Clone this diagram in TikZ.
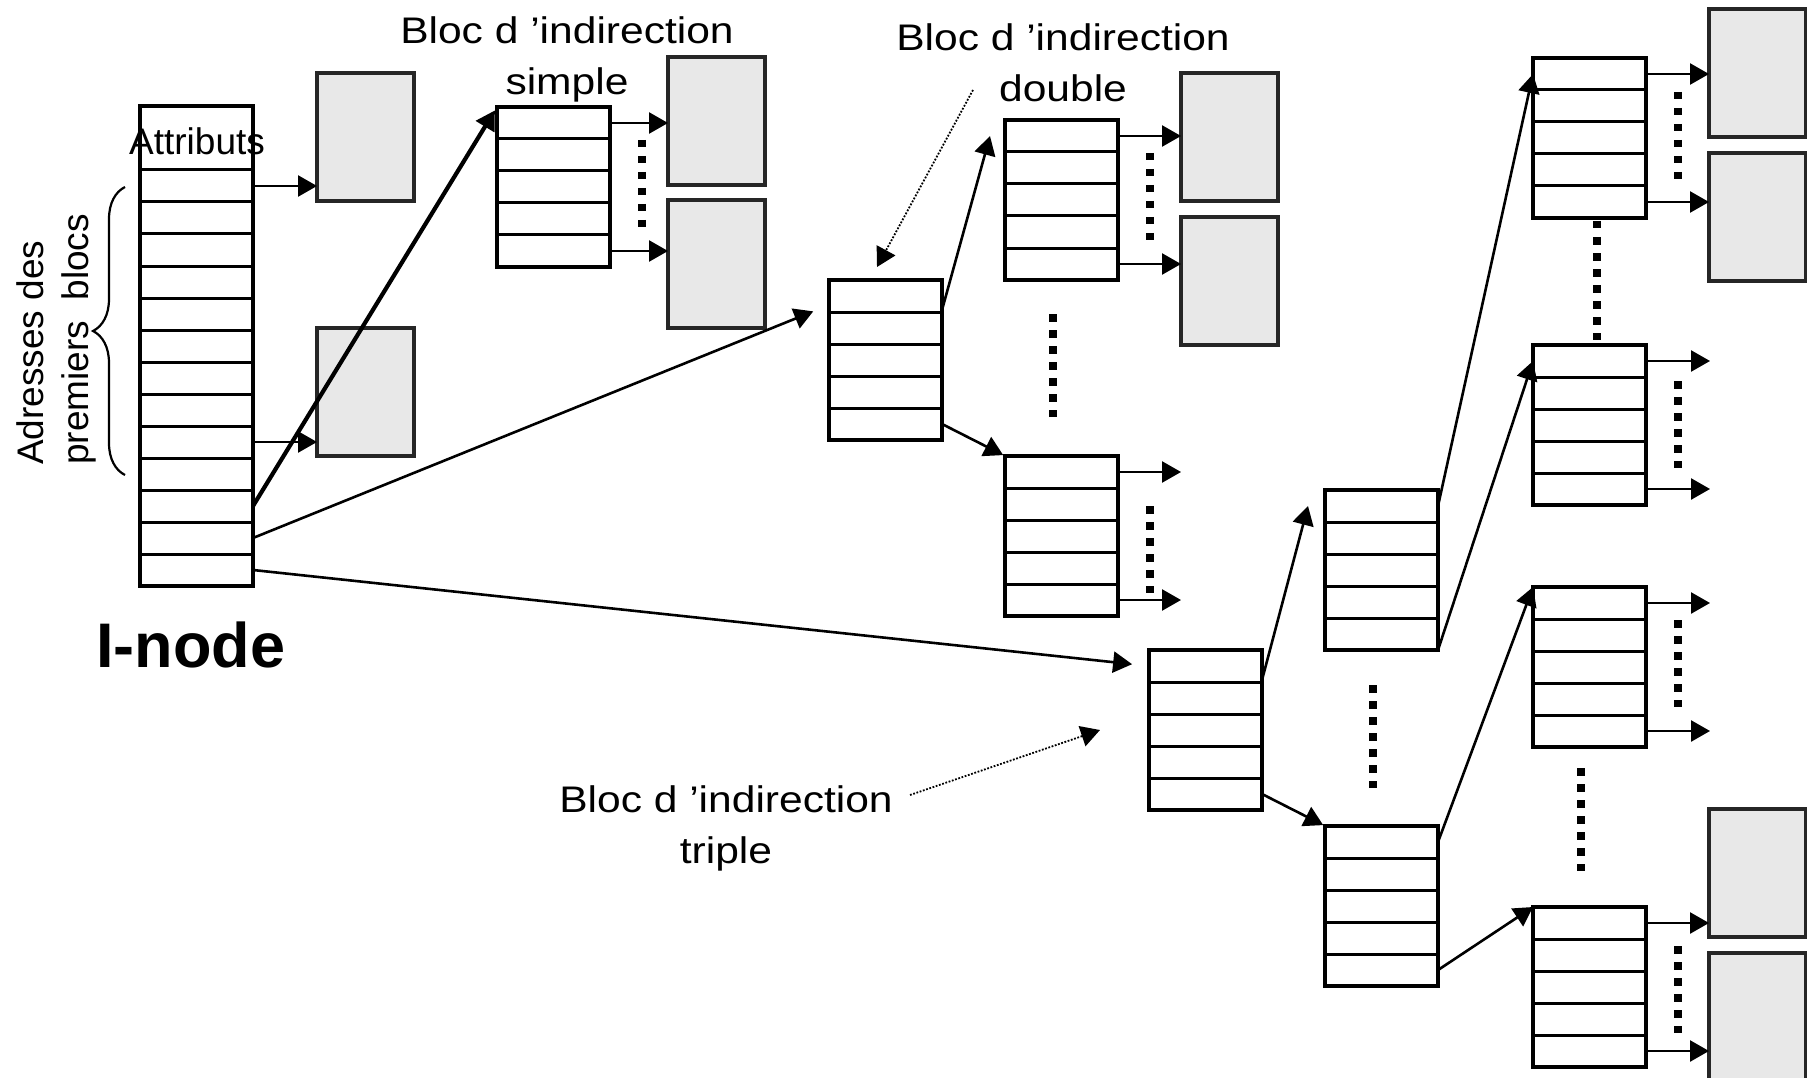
\documentclass[tikz,border=0pt]{standalone}
\usepackage{fontspec}
\setmainfont{Liberation Sans}
\newfontfamily\etiquette[FakeStretch=1.15]{Liberation Sans}
\usetikzlibrary{arrows.meta,decorations.pathreplacing}

% bloc de 5 adresses : nom, x, y (coin haut gauche)
\newcommand{\tableau}[3]{%
  \node[tab] (#1) at (#2,#3) {};
  \foreach \k in {1,...,4}
    \draw[cellule] ([yshift={-32pt*\k}]#1.north west) -- ([yshift={-32pt*\k}]#1.north east);
  \foreach \k in {1,...,5}{
    \coordinate (#1-\k) at ([yshift={16pt-32pt*\k}]#1.north east);
    \coordinate (#1-g\k) at ([yshift={16pt-32pt*\k}]#1.north west);}
}

\begin{document}
\begin{tikzpicture}[x=1pt,y=-1pt,
    tab/.style={draw,line width=3.4pt,anchor=north west,outer sep=0pt,inner sep=0pt,minimum width=113pt,minimum height=160pt},
    cellule/.style={line width=3pt},
    donnee/.style={draw=black!85,fill=black!9,line width=3.4pt,anchor=north west,outer sep=0pt,inner sep=0pt,minimum width=97pt,minimum height=128pt},
    fleche/.style={line width=2.6pt,-{Triangle[length=19pt,width=21pt]}},
    points/.style={line width=7.5pt,dash pattern=on 7.5pt off 8.5pt},
    renvoi/.style={line width=1.8pt,dash pattern=on 1.8pt off 1.6pt,-{Triangle[length=19pt,width=21pt]}},
    texte/.style={inner sep=0pt,font=\fontsize{37}{45}\selectfont},
    etiq/.style={inner sep=0pt,anchor=north,align=center,font=\etiquette\fontsize{37}{51}\selectfont}]
    \useasboundingbox (0,0) rectangle (1807,1078);

    % i-node
    \node[tab,minimum height=480pt] (inode) at (140,106) {};
    \foreach \k in {0,...,12}
      \draw[cellule] ([yshift={-64pt-32pt*\k}]inode.north west) -- ([yshift={-64pt-32pt*\k}]inode.north east);
    \foreach \k in {1,...,13}
      \coordinate (i-\k) at ([yshift={-48pt-32pt*\k}]inode.north east);
    \node[texte,anchor=base] (attr) at (197,155) {Attributs};
    \node[texte,rotate=90,anchor=north west,align=left] (adr) at (16,465) {Adresses des\\premiers\ \ blocs};
    \draw[line width=2.2pt,decorate,decoration={brace,amplitude=32pt}] (125,475) -- (125,187);
    \node[inner sep=0pt,anchor=base west,font=\bfseries\fontsize{63}{70}\selectfont] (titre) at (96,667) {I-node};

    % blocs directs
    \node[donnee] (b1) at (317,73) {};
    \node[donnee] (b2) at (317,328) {};
    \draw[fleche] (i-1) -- (i-1 -| b1.west);
    \draw[fleche] (i-9) -- (i-9 -| b2.west);

    % indirection simple
    \tableau{s}{497}{107}
    \node[donnee] (s1) at (668,57) {};
    \node[donnee] (s2) at (668,200) {};
    \draw[fleche] (s-1) -- (s-1 -| s1.west);
    \draw[fleche] (s-5) -- (s-5 -| s2.west);
    \draw[points] ([shift={(32,33)}]s.north east) -- ++(0,87);
    \draw[fleche,line width=4.2pt,shorten >=4pt] (i-11) -- (s.north west);
    \node[etiq] (ls) at (567,16) {Bloc d ’indirection\\simple};

    % indirection double
    \tableau{d0}{829}{280}
    \tableau{d1}{1005}{120}
    \tableau{d2}{1005}{456}
    \node[donnee] (d1a) at (1181,73) {};
    \node[donnee] (d1b) at (1181,217) {};
    \draw[fleche,shorten >=17pt] (i-12) -- ([yshift=-25pt]d0.north west);
    \draw[fleche] ([yshift=-30pt]d0.north east) -- ([xshift=-15pt]d1-g1);
    \draw[fleche,shorten >=2pt] (d0-5) -- (d2.north west);
    \draw[fleche] (d1-1) -- (d1-1 -| d1a.west);
    \draw[fleche] (d1-5) -- (d1-5 -| d1b.west);
    \draw[fleche] (d2-1) -- ([xshift=63pt]d2-1);
    \draw[fleche] (d2-5) -- ([xshift=63pt]d2-5);
    \draw[points] ([shift={(32,33)}]d1.north east) -- ++(0,87);
    \draw[points] ([shift={(32,50)}]d2.north east) -- ++(0,87);
    \draw[points] ([shift={(48,34)}]d1.south west) -- ++(0,103);
    \node[etiq] (ld) at (1063,23) {Bloc d ’indirection\\double};
    \draw[renvoi] ([shift={(-90,67)}]ld.north) -- ([shift={(48,-13)}]d0.north west);

    % indirection triple
    \tableau{t0}{1149}{650}
    \tableau{t1}{1325}{490}
    \tableau{t2}{1325}{826}
    \tableau{t3}{1533}{58}
    \tableau{t4}{1533}{345}
    \tableau{t5}{1533}{587}
    \tableau{t6}{1533}{907}
    \node[donnee] (t3a) at (1709,9) {};
    \node[donnee] (t3b) at (1709,153) {};
    \node[donnee] (t6a) at (1709,809) {};
    \node[donnee] (t6b) at (1709,953) {};
    \draw[fleche,shorten >=17pt] (i-13) -- (t0-g1);
    \draw[fleche] ([yshift=-30pt]t0.north east) -- ([xshift=-17pt]t1-g1);
    \draw[fleche,shorten >=2pt] (t0-5) -- (t2.north west);
    \draw[fleche] (t1-1) -- (t3-g1);
    \draw[fleche] (t1.south east) -- (t4-g1);
    \draw[fleche] (t2-1) -- (t5.north west);
    \draw[fleche] (t2-5) -- (t6.north west);
    \draw[fleche] (t3-1) -- (t3-1 -| t3a.west);
    \draw[fleche] (t3-5) -- (t3-5 -| t3b.west);
    \draw[fleche] (t4-1) -- ([xshift=64pt]t4-1);
    \draw[fleche] (t4-5) -- ([xshift=64pt]t4-5);
    \draw[fleche] (t5-1) -- ([xshift=64pt]t5-1);
    \draw[fleche] (t5-5) -- ([xshift=64pt]t5-5);
    \draw[fleche] (t6-1) -- (t6-1 -| t6a.west);
    \draw[fleche] (t6-5) -- (t6-5 -| t6b.west);
    \draw[points] ([shift={(48,35)}]t1.south west) -- ++(0,103);
    \draw[points] ([shift={(64,3)}]t3.south west) -- ++(0,119);
    \draw[points] ([shift={(48,21)}]t5.south west) -- ++(0,103);
    \draw[points] ([shift={(32,34)}]t3.north east) -- ++(0,87);
    \draw[points] ([shift={(32,36)}]t4.north east) -- ++(0,87);
    \draw[points] ([shift={(32,33)}]t5.north east) -- ++(0,87);
    \draw[points] ([shift={(32,39)}]t6.north east) -- ++(0,87);
    \node[etiq] (lt) at (726,785) {Bloc d ’indirection\\triple};
    \draw[renvoi] ([shift={(184,10)}]lt.north) -- ([xshift=-49pt]t0-g3);
\end{tikzpicture}
\end{document}
